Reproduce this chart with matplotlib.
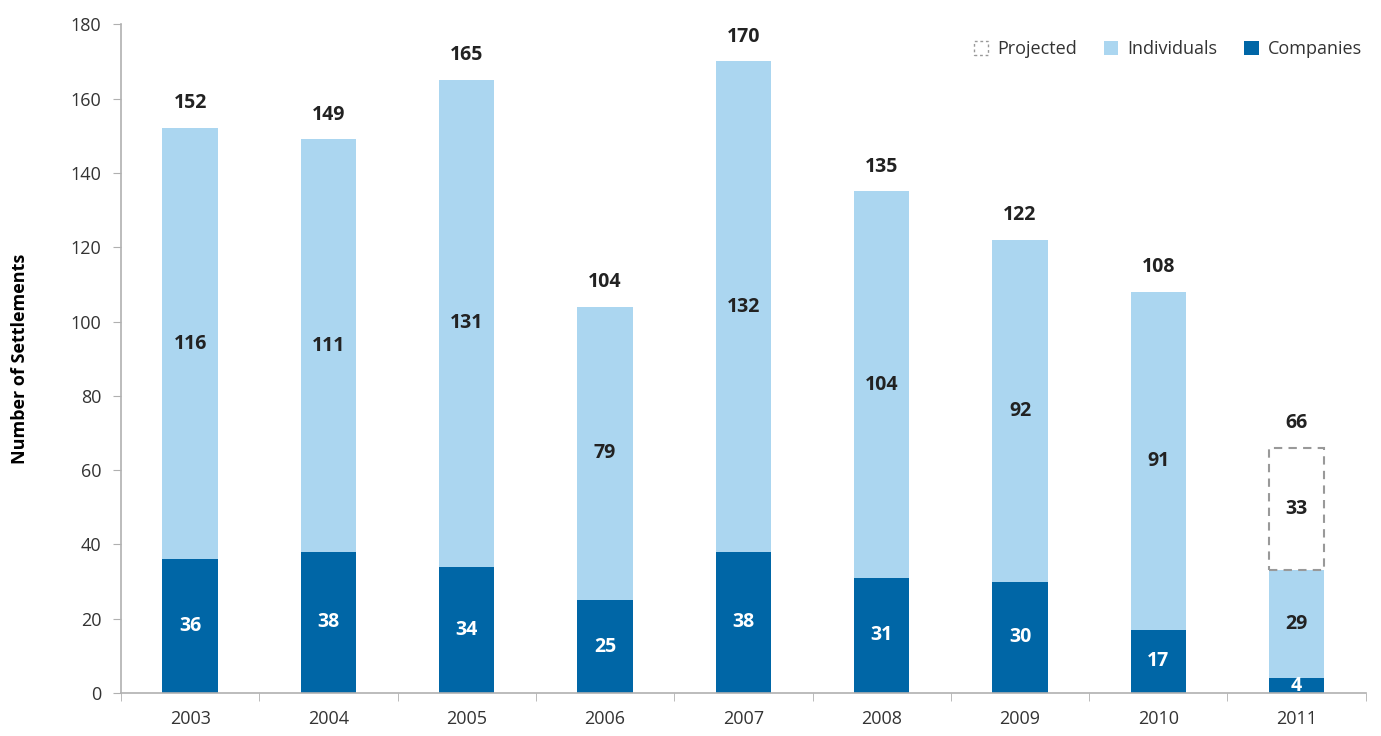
import numpy as np
import matplotlib.pyplot as plt
from matplotlib.patches import Patch

plt.rcParams['font.family'] = ['Open Sans', 'DejaVu Sans']

# data
years = ['2003', '2004', '2005', '2006', '2007', '2008', '2009', '2010', '2011']
companies = [36, 38, 34, 25, 38, 31, 30, 17, 4]
individuals = [116, 111, 131, 79, 132, 104, 92, 91, 29]
projected = [0, 0, 0, 0, 0, 0, 0, 0, 33]

dark = '#0066a6'
light = '#abd6f0'
grey = '#999999'

fig = plt.figure(figsize=(13.81, 7.36), dpi=100)
ax = fig.add_axes([0.0876, 0.0584, 0.9014, 0.9086])

x = np.arange(len(years))
w = 0.4
comp = np.array(companies)
ind = np.array(individuals)
proj = np.array(projected)

ax.bar(x, comp, w, color=dark, zorder=2)
ax.bar(x, ind, w, bottom=comp, color=light, zorder=2)
for i in range(len(years)):
    if proj[i] > 0:
        ax.bar(x[i], proj[i], w, bottom=comp[i] + ind[i], facecolor='none',
               edgecolor=grey, linestyle=(0, (4, 3)), linewidth=1.5, zorder=2)

# value labels
for i in range(len(years)):
    ax.text(x[i], comp[i] / 2, str(comp[i]), ha='center', va='center',
            color='white', fontsize=14, fontweight='bold')
    ax.text(x[i], comp[i] + ind[i] / 2, str(ind[i]), ha='center', va='center',
            color='#222222', fontsize=14, fontweight='bold')
    top = comp[i] + ind[i]
    if proj[i] > 0:
        ax.text(x[i], top + proj[i] / 2, str(proj[i]), ha='center', va='center',
                color='#222222', fontsize=14, fontweight='bold')
        top += proj[i]
    ax.text(x[i], top + 4, str(top), ha='center', va='bottom',
            color='#222222', fontsize=14, fontweight='bold')

ax.set_xlim(-0.5, len(years) - 0.5)
ax.set_ylim(0, 180)
ax.set_yticks(range(0, 181, 20))
ax.set_xticks(x)
ax.set_xticklabels(years)
ax.set_xticks(np.arange(-0.5, len(years), 1), minor=True)
ax.tick_params(axis='x', which='major', length=0, pad=12, labelsize=13, labelcolor='#333333')
ax.tick_params(axis='x', which='minor', length=6, color='#b0b0b0')
ax.tick_params(axis='y', length=6, color='#b0b0b0', labelsize=13, labelcolor='#333333', pad=8)

for s in ['top', 'right']:
    ax.spines[s].set_visible(False)
for s in ['left', 'bottom']:
    ax.spines[s].set_color('#b0b0b0')
    ax.spines[s].set_linewidth(1.2)

ax.set_ylabel('Number of Settlements', fontsize=13, fontweight='bold', labelpad=30)

handles = [
    Patch(facecolor='none', edgecolor=grey, linestyle=(0, (2, 2)), label='Projected'),
    Patch(facecolor=light, label='Individuals'),
    Patch(facecolor=dark, label='Companies'),
]
ax.legend(handles=handles, loc='center right', ncol=3, frameon=False, fontsize=13,
          handlelength=0.8, handleheight=0.8, handletextpad=0.5, columnspacing=1.5,
          bbox_to_anchor=(1.01, 0.963), labelcolor='#333333')

fig.savefig('out.png', dpi=100)
